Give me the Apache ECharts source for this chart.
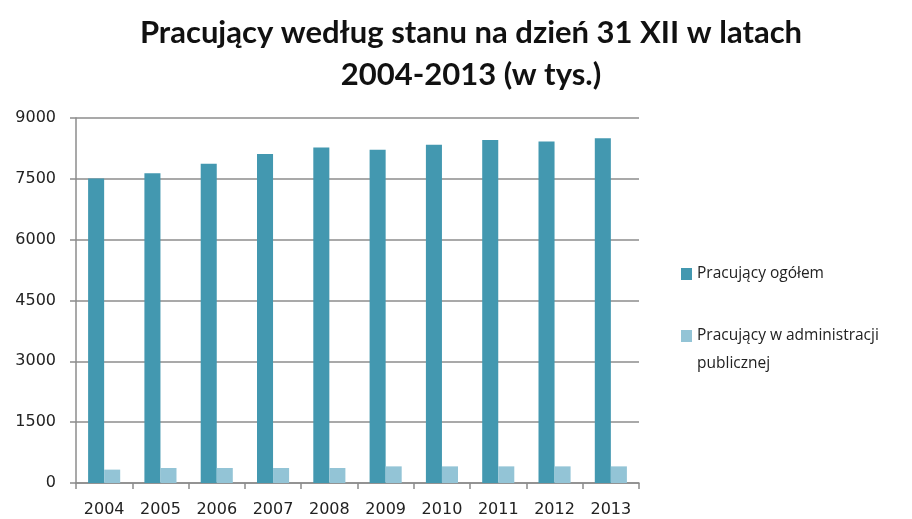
<!DOCTYPE html>
<html lang="pl">
<head>
<meta charset="UTF-8" />
<title>Pracujący według stanu na dzień 31 XII</title>
<script src="https://cdn.jsdelivr.net/npm/echarts@6/dist/echarts.min.js"></script>
<style>
  html, body { margin: 0; padding: 0; background: #fff; }
  #main { width: 912px; height: 519px; }
</style>
</head>
<body>
<div id="main"></div>
<script>
  // dane (w tys.)
  var years = ["2004", "2005", "2006", "2007", "2008", "2009", "2010", "2011", "2012", "2013"];
  var ogolem = [7510, 7640, 7875, 8110, 8270, 8220, 8340, 8460, 8420, 8500];
  var administracja = [330, 370, 370, 370, 370, 410, 410, 410, 410, 410];
  var seriesNames = ["Pracujący ogółem", "Pracujący w administracji publicznej"];

  var chart = echarts.init(document.getElementById("main"));

  var option = {
    animation: false,
    title: {
      text: "Pracujący według stanu na dzień 31 XII w latach\n2004-2013 (w tys.)",
      left: 466,
      textAlign: "center",
      top: 7,
      textStyle: {
        fontFamily: "Lato",
        fontWeight: "bold",
        fontSize: 31,
        lineHeight: 42,
        color: "#111"
      }
    },
    legend: {
      orient: "vertical",
      left: 676,
      top: 255,
      itemWidth: 11,
      itemHeight: 12,
      itemGap: 6,
      icon: "rect",
      data: seriesNames,
      // drugi wpis: pusta linia na górze, żeby ikona stała przy pierwszej linii tekstu
      formatter: function (name) {
        if (name === seriesNames[1]) {
          return " \nPracujący w administracji\npublicznej";
        }
        return name;
      },
      textStyle: {
        fontFamily: "Open Sans",
        fontSize: 15.5,
        lineHeight: 28,
        color: "#222"
      }
    },
    grid: {
      left: 76,
      right: 273,
      top: 118,
      bottom: 36
    },
    xAxis: {
      type: "category",
      data: years,
      axisLine: { lineStyle: { color: "#8c8c8c", width: 1.5 } },
      axisTick: { show: true, length: 6, lineStyle: { color: "#8c8c8c", width: 1.5 } },
      axisLabel: {
        fontFamily: "DejaVu Sans",
        fontSize: 16,
        color: "#222",
        margin: 19
      }
    },
    yAxis: {
      type: "value",
      min: 0,
      max: 9000,
      interval: 1500,
      axisLine: { show: true, lineStyle: { color: "#8c8c8c", width: 1.5 } },
      axisTick: { show: true, length: 6, lineStyle: { color: "#8c8c8c", width: 1.5 } },
      splitLine: { lineStyle: { color: "#8c8c8c", width: 1.5 } },
      axisLabel: {
        fontFamily: "DejaVu Sans",
        fontSize: 16,
        color: "#222",
        margin: 20,
        formatter: function (v) { return String(v); }
      }
    },
    series: [
      {
        name: seriesNames[0],
        type: "bar",
        data: ogolem,
        barGap: "0%",
        barCategoryGap: "43%",
        itemStyle: { color: "#4398b0" }
      },
      {
        name: seriesNames[1],
        type: "bar",
        data: administracja,
        itemStyle: { color: "#93c4d6" }
      }
    ]
  };

  chart.setOption(option);
</script>
</body>
</html>
